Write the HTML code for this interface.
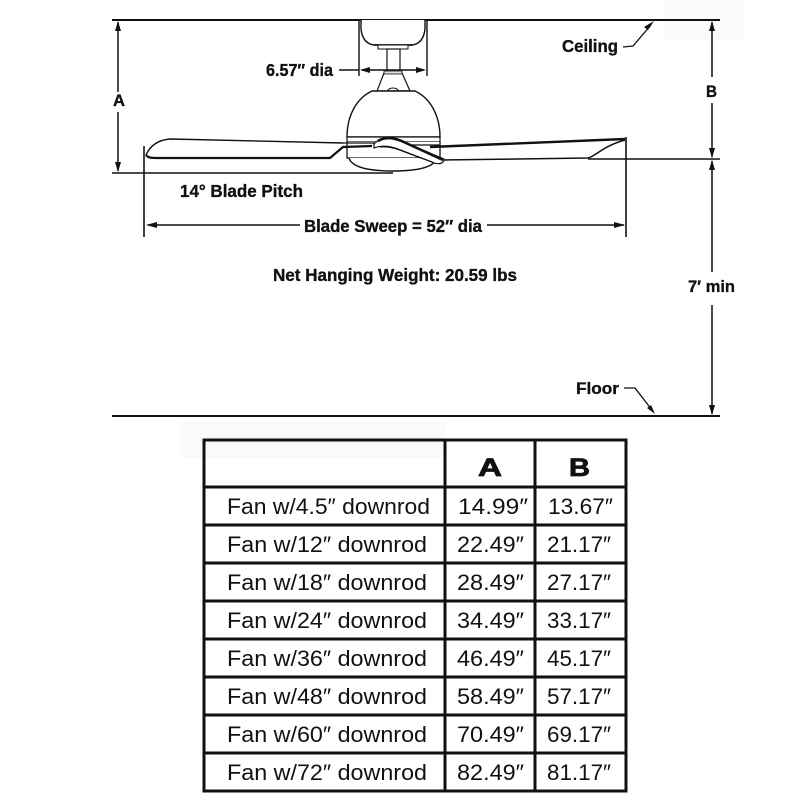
<!DOCTYPE html>
<html>
<head>
<meta charset="utf-8">
<style>
  html,body{margin:0;padding:0;background:#fff;}
  svg{display:block;}
  .t{font-family:"Liberation Sans",Arial,"DejaVu Sans",sans-serif;fill:#111;}
  .b{font-weight:bold;stroke:#111;stroke-width:0.35;}
</style>
</head>
<body>
<svg width="800" height="800" viewBox="0 0 800 800" xmlns="http://www.w3.org/2000/svg">
  <rect x="0" y="0" width="800" height="800" fill="#fff"/>
  <!-- faint artifacts -->
  <rect x="663" y="0" width="82" height="40" fill="#fbfbfb"/>
  <rect x="180" y="422" width="265" height="36" fill="#fafafa"/>

  <g stroke="#111" fill="none" stroke-linecap="butt">
    <!-- ceiling & floor -->
    <line x1="112" y1="20" x2="720" y2="20" stroke-width="2"/>
    <line x1="112" y1="416" x2="720" y2="416" stroke-width="2"/>
    <!-- blade bottom reference line left -->
    <line x1="112" y1="173" x2="393" y2="173" stroke-width="1.6"/>
    <!-- blade level line right -->
    <line x1="588" y1="159" x2="720" y2="159" stroke-width="1.4"/>

    <!-- A dimension -->
    <line x1="118" y1="22" x2="118" y2="92" stroke-width="1.5"/>
    <line x1="118" y1="112" x2="118" y2="171" stroke-width="1.5"/>
    <!-- B dimension -->
    <line x1="712" y1="22" x2="712" y2="77" stroke-width="1.5"/>
    <line x1="712" y1="103" x2="712" y2="157" stroke-width="1.5"/>
    <!-- 7' min -->
    <line x1="712" y1="161" x2="712" y2="272" stroke-width="1.5"/>
    <line x1="712" y1="305" x2="712" y2="414" stroke-width="1.5"/>

    <!-- blade tip verticals -->
    <line x1="144" y1="146" x2="144" y2="237" stroke-width="1.6"/>
    <line x1="626" y1="137" x2="626" y2="237" stroke-width="1.6"/>
    <!-- blade sweep dim -->
    <line x1="148" y1="225" x2="300" y2="225" stroke-width="1.4"/>
    <line x1="487" y1="225" x2="624" y2="225" stroke-width="1.4"/>

    <!-- canopy -->
    <path d="M361,20 L361,29 C362,38 366,44 374,45 L412,45 C420,44 424,38 425,29 L425,20" stroke-width="1.4" fill="#fff"/>
    <line x1="374" y1="45" x2="412" y2="45" stroke-width="1.4"/>
    <rect x="378" y="45" width="30" height="4" stroke-width="1" fill="#fff"/>
    <!-- downrod -->
    <rect x="387" y="49" width="13" height="24" stroke-width="1.2" fill="#fff"/>
    <!-- 6.57 dia dimension -->
    <line x1="359" y1="20" x2="359" y2="76" stroke-width="1.4"/>
    <line x1="427" y1="20" x2="427" y2="76" stroke-width="1.4"/>
    <line x1="339" y1="70" x2="359" y2="70" stroke-width="1.4"/>
    <line x1="362" y1="70" x2="424" y2="70" stroke-width="1.4"/>

    <!-- coupling cover -->
    <path d="M384,73 L402,73 L410,91 L377,91 Z" stroke-width="1.2" fill="#fff"/>
    <rect x="384" y="71" width="18" height="3" stroke-width="0.8" fill="#ddd"/>
    <!-- motor dome -->
    <path d="M372,91 L415,91 C430,98 440,115 440,137 L347,137 C347,115 357,98 372,91 Z" stroke-width="1.4" fill="#fff"/>
    <path d="M388,91 C388,87 398,87 398,91" stroke-width="1"/>
    <rect x="347" y="137" width="93" height="5" stroke-width="1.2" fill="#fff"/>
    <path d="M347,142 L347,158 L440,158 L440,142" stroke-width="1.3" fill="#fff"/>
    <path d="M349,158 C352,168 370,171 393,171 C416,171 434,168 437,158" stroke-width="1.4" fill="#fff"/>

    <!-- left blade -->
    <path d="M146,155 C150,146 158,140 170,139 L343,143" stroke-width="1.4"/>
    <path d="M146,155 C148,158 152,158 158,158 L330,158 L343,147 L372,146" stroke-width="2.2"/>
    <line x1="343" y1="143" x2="375" y2="143" stroke-width="1.2"/>
    <!-- right blade -->
    <path d="M430,147 L625,139" stroke-width="2.4"/>
    <path d="M440,160 L588,158 C596,156 603,146 625,140" stroke-width="1.5"/>
    <line x1="410" y1="145" x2="440" y2="145" stroke-width="1.2"/>

    <!-- blade arm swoosh -->
    <path d="M374,144 C380,137 392,136 404,142 L444,159 C444,164 438,165 432,162 L398,149 C390,146 382,145 374,148 Z" stroke-width="1.2" fill="#fff"/>
    <path d="M378,141 C386,136 396,138 406,143 L443,160" stroke-width="2.6"/>
    <path d="M380,147 C390,146 398,149 410,154 L432,162" stroke-width="1.2"/>

    <!-- leaders -->
    <path d="M623,47 L633,46 L651,25" stroke-width="1.3"/>
    <path d="M624,388 L635,388 L652,410" stroke-width="1.3"/>
  </g>

  <!-- arrowheads -->
  <g fill="#111" stroke="none">
    <polygon points="118,21 115,31 121,31"/>
    <polygon points="118,172 115,162 121,162"/>
    <polygon points="712,21 709,31 715,31"/>
    <polygon points="712,158 709,148 715,148"/>
    <polygon points="712,160 709,170 715,170"/>
    <polygon points="712,415 709,405 715,405"/>
    <polygon points="146,225 157,222 157,228"/>
    <polygon points="625,225 614,222 614,228"/>
    <polygon points="360,70 370,67 370,73"/>
    <polygon points="426,70 416,67 416,73"/>
    <polygon points="654,21 648,30 644,27"/>
    <polygon points="655,414 647,408 651,405"/>
  </g>

  <!-- diagram labels -->
  <text class="t b" x="113" y="106" font-size="17" textLength="12" lengthAdjust="spacingAndGlyphs">A</text>
  <text class="t b" x="706" y="97" font-size="17" textLength="11" lengthAdjust="spacingAndGlyphs">B</text>
  <text class="t b" x="266" y="76" font-size="17.5" textLength="67" lengthAdjust="spacingAndGlyphs">6.57″ dia</text>
  <text class="t b" x="562" y="52" font-size="17.5" textLength="56" lengthAdjust="spacingAndGlyphs">Ceiling</text>
  <text class="t b" x="180" y="197" font-size="17.5" textLength="123" lengthAdjust="spacingAndGlyphs">14° Blade Pitch</text>
  <text class="t b" x="304" y="232" font-size="17.5" textLength="178" lengthAdjust="spacingAndGlyphs">Blade Sweep = 52″ dia</text>
  <text class="t b" x="273" y="281" font-size="17.5" textLength="244" lengthAdjust="spacingAndGlyphs">Net Hanging Weight: 20.59 lbs</text>
  <text class="t b" x="688" y="292" font-size="17" textLength="47" lengthAdjust="spacingAndGlyphs">7′ min</text>
  <text class="t b" x="576" y="394" font-size="17" textLength="43" lengthAdjust="spacingAndGlyphs">Floor</text>

  <!-- table -->
  <g stroke="#111" stroke-width="3" fill="none">
    <rect x="204" y="440" width="422" height="351"/>
    <line x1="445" y1="440" x2="445" y2="791"/>
    <line x1="535" y1="440" x2="535" y2="791"/>
    <line x1="204" y1="487" x2="626" y2="487"/>
    <line x1="204" y1="525" x2="626" y2="525"/>
    <line x1="204" y1="563" x2="626" y2="563"/>
    <line x1="204" y1="601" x2="626" y2="601"/>
    <line x1="204" y1="639" x2="626" y2="639"/>
    <line x1="204" y1="677" x2="626" y2="677"/>
    <line x1="204" y1="715" x2="626" y2="715"/>
    <line x1="204" y1="753" x2="626" y2="753"/>
  </g>
  <text class="t b" x="478" y="476" font-size="25" textLength="24" lengthAdjust="spacingAndGlyphs" style="stroke-width:0.8">A</text>
  <text class="t b" x="569" y="476" font-size="25" textLength="21" lengthAdjust="spacingAndGlyphs" style="stroke-width:0.8">B</text>

  <g class="t" font-size="22.5">
    <text class="t" x="227" y="514" textLength="203" lengthAdjust="spacingAndGlyphs">Fan w/4.5″ downrod</text>
    <text class="t" x="227" y="552" textLength="200" lengthAdjust="spacingAndGlyphs">Fan w/12″ downrod</text>
    <text class="t" x="227" y="590" textLength="200" lengthAdjust="spacingAndGlyphs">Fan w/18″ downrod</text>
    <text class="t" x="227" y="628" textLength="200" lengthAdjust="spacingAndGlyphs">Fan w/24″ downrod</text>
    <text class="t" x="227" y="666" textLength="200" lengthAdjust="spacingAndGlyphs">Fan w/36″ downrod</text>
    <text class="t" x="227" y="704" textLength="200" lengthAdjust="spacingAndGlyphs">Fan w/48″ downrod</text>
    <text class="t" x="227" y="742" textLength="200" lengthAdjust="spacingAndGlyphs">Fan w/60″ downrod</text>
    <text class="t" x="227" y="780" textLength="200" lengthAdjust="spacingAndGlyphs">Fan w/72″ downrod</text>
  </g>
  <g class="t" font-size="22.5">
    <text class="t" x="458" y="514" textLength="70" lengthAdjust="spacingAndGlyphs">14.99″</text>
    <text class="t" x="457" y="552" textLength="67" lengthAdjust="spacingAndGlyphs">22.49″</text>
    <text class="t" x="457" y="590" textLength="67" lengthAdjust="spacingAndGlyphs">28.49″</text>
    <text class="t" x="457" y="628" textLength="67" lengthAdjust="spacingAndGlyphs">34.49″</text>
    <text class="t" x="457" y="666" textLength="67" lengthAdjust="spacingAndGlyphs">46.49″</text>
    <text class="t" x="457" y="704" textLength="67" lengthAdjust="spacingAndGlyphs">58.49″</text>
    <text class="t" x="457" y="742" textLength="67" lengthAdjust="spacingAndGlyphs">70.49″</text>
    <text class="t" x="457" y="780" textLength="67" lengthAdjust="spacingAndGlyphs">82.49″</text>
    <text class="t" x="548" y="514" textLength="65" lengthAdjust="spacingAndGlyphs">13.67″</text>
    <text class="t" x="547" y="552" textLength="64" lengthAdjust="spacingAndGlyphs">21.17″</text>
    <text class="t" x="547" y="590" textLength="64" lengthAdjust="spacingAndGlyphs">27.17″</text>
    <text class="t" x="547" y="628" textLength="64" lengthAdjust="spacingAndGlyphs">33.17″</text>
    <text class="t" x="547" y="666" textLength="64" lengthAdjust="spacingAndGlyphs">45.17″</text>
    <text class="t" x="547" y="704" textLength="64" lengthAdjust="spacingAndGlyphs">57.17″</text>
    <text class="t" x="547" y="742" textLength="64" lengthAdjust="spacingAndGlyphs">69.17″</text>
    <text class="t" x="547" y="780" textLength="64" lengthAdjust="spacingAndGlyphs">81.17″</text>
  </g>
</svg>
</body>
</html>
